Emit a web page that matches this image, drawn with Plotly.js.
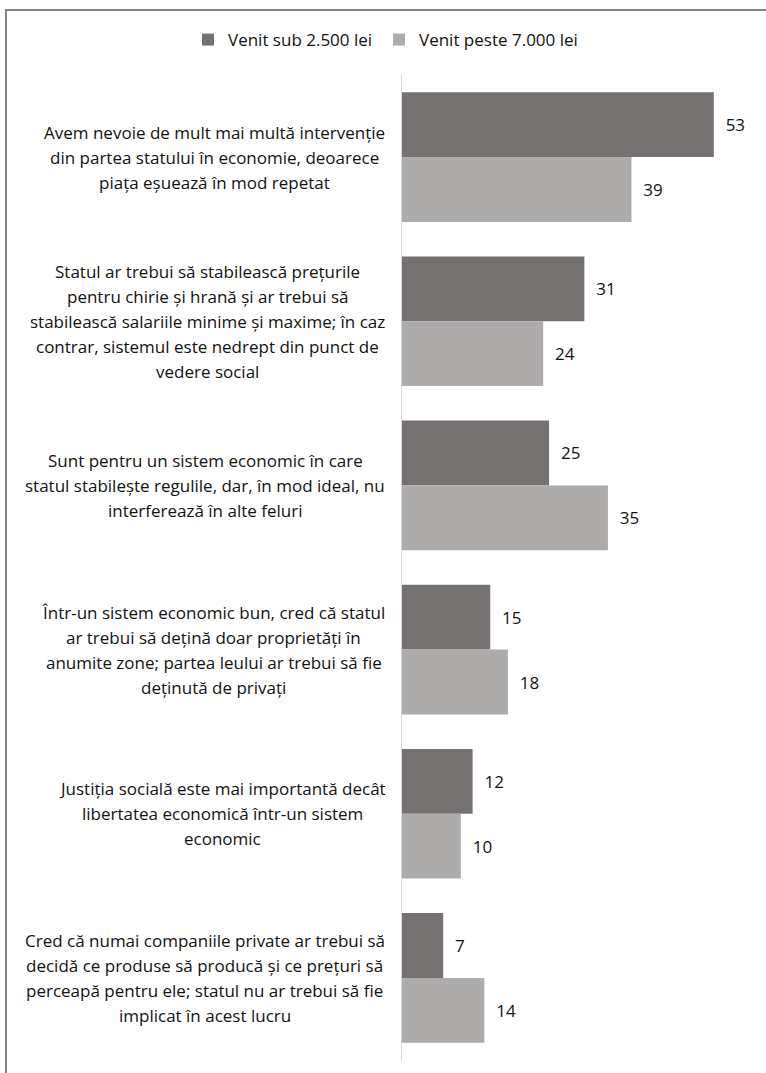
<!DOCTYPE html>
<html><head><meta charset="utf-8">
<script src="https://cdn.plot.ly/plotly-3.0.1.min.js"></script>
<style>
body{margin:0;background:#fff;}
#wrap{position:relative;width:766px;height:1073px;overflow:hidden;}
#frame{position:absolute;left:5px;top:9px;right:-5px;bottom:-5px;border-top:2px solid #858585;border-left:2px solid #858585;pointer-events:none;}
</style>
</head><body>
<div id="wrap"><div id="chart" style="width:766px;height:1073px;"></div><div id="frame"></div></div>
<script>
const labelLines = [
  ["Avem nevoie de mult mai multă intervenție", "din partea statului în economie, deoarece", "piața eșuează în mod repetat"],
  ["Statul ar trebui să stabilească prețurile", "pentru chirie și hrană și ar trebui să", "stabilească salariile minime și maxime; în caz", "contrar, sistemul este nedrept din punct de", "vedere social"],
  ["Sunt pentru un sistem economic în care", "statul stabilește regulile, dar, în mod ideal, nu", "interferează în alte feluri"],
  ["Într-un sistem economic bun, cred că statul", "ar trebui să dețină doar proprietăți în", "anumite zone; partea leului ar trebui să fie", "deținută de privați"],
  ["Justiția socială este mai importantă decât", "libertatea economică într-un sistem", "economic"],
  ["Cred că numai companiile private ar trebui să", "decidă ce produse să producă și ce prețuri să", "perceapă pentru ele; statul nu ar trebui să fie", "implicat în acest lucru"]
];
const categories = labelLines.map(l => l.join(" "));
const seriesNames = ["Venit sub 2.500 lei", "Venit peste 7.000 lei"];
const lowIncome = [53, 31, 25, 15, 12, 7];
const highIncome = [39, 24, 35, 18, 10, 14];

const FONT = "'Open Sans', sans-serif";
const FS = 17;
const TXT = "#111111";
const plotLeft = 402, labelRight = 385, lineStep = 25;

const cv = document.createElement("canvas").getContext("2d");
cv.font = FS + "px 'Open Sans'";

const annotations = [];
labelLines.forEach((lines, ci) => {
  const maxW = Math.max(...lines.map(s => cv.measureText(s).width));
  const center = labelRight - maxW / 2;
  const n = lines.length;
  lines.forEach((s, i) => {
    annotations.push({
      xref: "paper", x: 0, xshift: center - plotLeft, xanchor: "center",
      yref: "y", y: categories[ci], yanchor: "middle",
      yshift: -(i - (n - 1) / 2) * lineStep,
      text: s, showarrow: false, align: "center",
      font: {family: FONT, size: FS, color: TXT}
    });
  });
});

const pad = "\u00a0\u00a0";
const traces = [
  {type: "bar", orientation: "h", name: seriesNames[0], y: categories, x: lowIncome, legend: "legend",
   marker: {color: "#767171"}, text: lowIncome.map(v => pad + v), textposition: "outside",
   textfont: {family: FONT, size: FS, color: TXT}, cliponaxis: false, hoverinfo: "skip"},
  {type: "bar", orientation: "h", name: seriesNames[1], y: categories, x: highIncome, legend: "legend2",
   marker: {color: "#AEABAB"}, text: highIncome.map(v => pad + v), textposition: "outside",
   textfont: {family: FONT, size: FS, color: TXT}, cliponaxis: false, hoverinfo: "skip"}
];

const legendBase = {orientation: "v", xref: "container", yref: "container", y: 1 - 40 / 1073,
  xanchor: "left", yanchor: "middle", font: {family: FONT, size: FS, color: TXT},
  bgcolor: "rgba(0,0,0,0)", itemwidth: 30};

const layout = {
  width: 766, height: 1073,
  margin: {l: 402, r: 11, t: 75, b: 13, autoexpand: false},
  paper_bgcolor: "rgba(0,0,0,0)", plot_bgcolor: "rgba(0,0,0,0)",
  barmode: "group", bargap: 0.21, bargroupgap: 0,
  font: {family: FONT, size: FS, color: TXT},
  showlegend: true,
  legend: Object.assign({}, legendBase, {x: 188 / 766}),
  legend2: Object.assign({}, legendBase, {x: 379 / 766}),
  xaxis: {range: [0, 60], showticklabels: false, showgrid: false, zeroline: false, showline: false, ticks: ""},
  yaxis: {autorange: "reversed", showticklabels: false, showgrid: false, zeroline: false,
          showline: true, linecolor: "#d9d9d9", linewidth: 1, ticks: ""},
  annotations: annotations
};

Plotly.newPlot("chart", traces, layout, {displayModeBar: false, staticPlot: true});
</script>
</body></html>
